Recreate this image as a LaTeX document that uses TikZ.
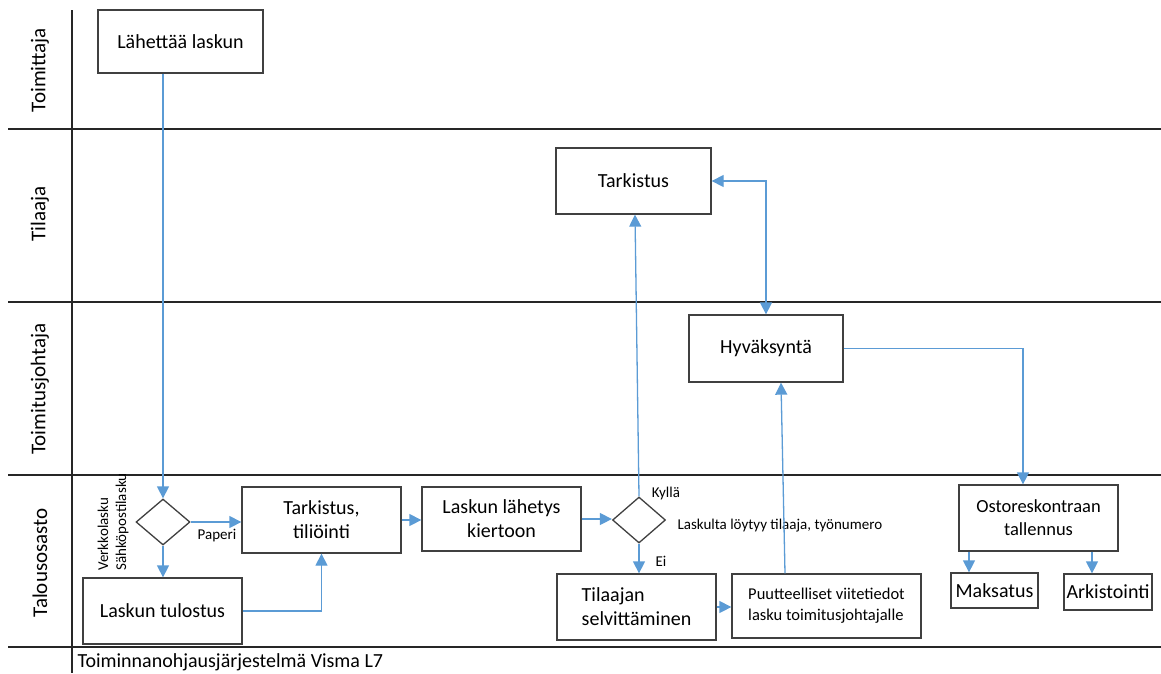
\documentclass[tikz,border=0pt]{standalone}
\usepackage{fontspec}
\setmainfont{Carlito}
\usetikzlibrary{shapes.geometric, arrows.meta}
\definecolor{flowblue}{RGB}{91,155,213}
\definecolor{boxgray}{RGB}{64,64,64}

\begin{document}
\begin{tikzpicture}[x=1pt,y=-1pt]
    \tikzset{
      blk/.style={
        draw=boxgray,
        line width=1.3pt,
        rectangle,
        inner sep=2pt,
        align=center,
        font=\fontsize{20}{24}\selectfont,
      },
      dec/.style={
        draw=boxgray,
        line width=1.3pt,
        diamond,
        inner sep=0pt,
        minimum width=54pt,
        minimum height=46pt,
      },
      arr/.style={
        color=flowblue,
        line width=1.3pt,
        -{Triangle[length=12pt,width=12pt]},
      },
      lane/.style={font=\fontsize{21}{25}\selectfont, rotate=90},
      lbl/.style={font=\fontsize{15}{18}\selectfont},
    }
    \tikzstyle{laneline} = [draw=black!85, line width=1.4pt]

    \useasboundingbox (0,0) rectangle (1161,673);

    % swimlanes
    \draw[laneline] (72,10) -- (72,673);
    \foreach \y in {129, 302, 475, 647}
        \draw[laneline] (8,\y) -- (1161,\y);

    \node[lane] (toimittaja) at (40,70)  {Toimittaja};
    \node[lane] (tilaaja)    at (40,214) {Tilaaja};
    \node[lane] (tjohtaja)   at (40,389) {Toimitusjohtaja};
    \node[lane] (talous)     at (40,563) {Talousosasto};

    % steps
    \node[blk, minimum width=165pt, minimum height=63pt] (lahettaa) at (180.5,41.5) {Lähettää laskun};
    \node[blk, minimum width=155pt, minimum height=66pt] (tarkistus) at (633.5,181) {Tarkistus};
    \node[blk, minimum width=154pt, minimum height=67pt] (hyvaksynta) at (766,348.5) {Hyväksyntä};

    \node[dec] (tyyppi) at (163,522) {};
    \node[blk, minimum width=159pt, minimum height=66pt] (tiliointi) at (321.5,520) {Tarkistus,\\tiliöinti};
    \node[blk, minimum width=159pt, minimum height=66pt] (tulostus) at (162.5,611) {Laskun tulostus};
    \node[blk, minimum width=159pt, minimum height=64pt] (kierto) at (501.5,519) {Laskun lähetys\\kiertoon};
    \node[dec, minimum width=53pt] (loytyy) at (639,520) {};
    \node[blk, minimum width=159pt, minimum height=66pt, align=left] (selvitys) at (636.5,607) {Tilaajan\\selvittäminen};
    \node[blk, minimum width=189pt, minimum height=64pt, align=left,
          font=\fontsize{16.5}{21}\selectfont] (puutteet) at (826.5,606) {Puutteelliset viitetiedot\\lasku toimitusjohtajalle};
    \node[blk, minimum width=159pt, minimum height=66pt,
          font=\fontsize{18.5}{23}\selectfont] (reskontra) at (1038.5,518) {Ostoreskontraan\\tallennus};
    \node[blk, minimum width=87pt, minimum height=35pt, inner sep=1pt] (maksatus) at (994.5,590.5) {Maksatus};
    \node[blk, minimum width=88pt, minimum height=36pt, inner sep=1pt] (arkisto) at (1108,592) {Arkistointi};

    % labels
    \node[lbl, rotate=90, anchor=west] (verkko) at (103,574) {Verkkolasku};
    \node[lbl, rotate=90, anchor=west] (sposti) at (122,574) {Sähköpostilasku};
    \node[lbl] (paperi) at (217,536) {Paperi};
    \node[lbl] (kylla) at (666,493) {Kyllä};
    \node[lbl, anchor=west] (ehto) at (674,526) {Laskulta löytyy tilaaja, työnumero};
    \node[lbl] (ei) at (661,561) {Ei};
    \node[anchor=west, font=\fontsize{20}{24}\selectfont] (jarjestelma) at (74,662) {Toiminnanohjausjärjestelmä Visma L7};

    \path[arr]
        (tyyppi.north |- lahettaa.south) edge (tyyppi.north)
        (tyyppi.east)  edge (tyyppi.east -| tiliointi.west)
        (tyyppi.south) edge (tyyppi.south |- tulostus.north)
        (tiliointi.east) edge (tiliointi.east -| kierto.west)
        (kierto.east)  edge (kierto.east -| loytyy.west)
        (loytyy.north) edge ([xshift=1.5pt]tarkistus.south)
        (loytyy.south) edge (loytyy.south |- selvitys.north)
        (selvitys.east) edge (selvitys.east -| puutteet.west)
        ([xshift=-41.5pt]puutteet.north) edge ([xshift=15pt]hyvaksynta.south)
        ([xshift=-69.5pt]reskontra.south) edge ([xshift=-25.5pt]maksatus.north)
        ([xshift=53.5pt]reskontra.south) edge ([xshift=-16pt]arkisto.north);

    % bends
    \draw[arr] (tulostus.east) -| (tiliointi.south);
    \draw[arr, {Triangle[length=12pt,width=12pt]}-{Triangle[length=12pt,width=12pt]}]
        (tarkistus.east) -| (hyvaksynta.north);
    \draw[arr] (hyvaksynta.east) -| ([xshift=-15.5pt]reskontra.north);
\end{tikzpicture}
\end{document}
